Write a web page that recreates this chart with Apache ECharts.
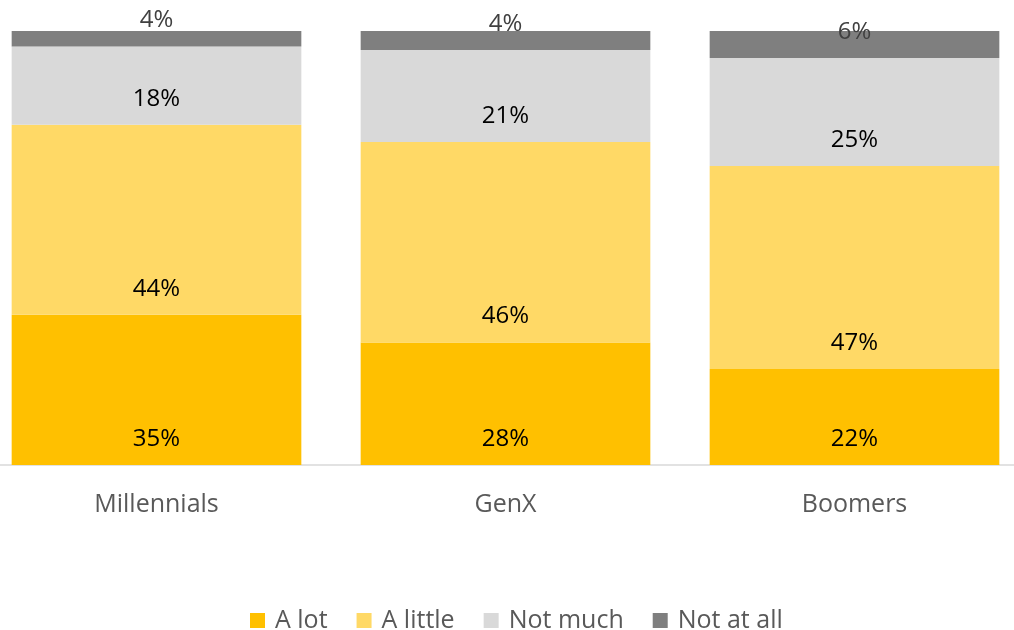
<!DOCTYPE html>
<html>
<head>
<meta charset="utf-8">
<script src="https://cdn.jsdelivr.net/npm/echarts@6/dist/echarts.min.js"></script>
<style>
  html, body { margin: 0; padding: 0; background: #fff; overflow: hidden; }
  body { width: 1014px; height: 630px; position: relative; }
  /* plot is wider than the window: the source picture is cropped on both sides */
  #chart { position: absolute; left: -18px; top: 0; width: 1047px; height: 630px; }
</style>
</head>
<body>
<div id="chart"></div>
<script>
// generations on the x axis
const categories = ['Millennials', 'GenX', 'Boomers']

// share of respondents (%); labels show rounded values
const aLot = [34.6, 28.2, 22.1]
const aLittle = [43.8, 46.2, 46.8]
const notMuch = [18.0, 21.2, 24.9]
const notAtAll = [3.6, 4.4, 6.2]

const seriesNames = ['A lot', 'A little', 'Not much', 'Not at all']
const seriesColors = ['#FFC000', '#FFD966', '#D9D9D9', '#7F7F7F']
const labelColors = ['#000000', '#000000', '#000000', '#404040']

const font = '"Open Sans", "Noto Sans", sans-serif'

const chart = echarts.init(document.getElementById('chart'))

const series = [aLot, aLittle, notMuch, notAtAll].map((values, i) => ({
  name: seriesNames[i],
  type: 'bar',
  stack: 'total',
  data: values,
  barCategoryGap: '17%',
  itemStyle: { color: seriesColors[i] },
  label: {
    show: true,
    position: 'insideBottom',
    distance: 14,
    color: labelColors[i],
    fontFamily: font,
    fontSize: 24,
    formatter: (p) => Math.round(p.value) + '%'
  }
}))

chart.setOption({
  backgroundColor: '#ffffff',
  animation: false,
  grid: { left: 0, right: 0, top: 31, bottom: 165 },
  legend: {
    top: 603,
    left: 263,
    itemWidth: 15,
    itemHeight: 15,
    itemGap: 29,
    icon: 'rect',
    textStyle: {
      color: '#595959',
      fontFamily: font,
      fontSize: 25,
      padding: [0, 0, 0, 5]
    },
    data: seriesNames
  },
  xAxis: {
    type: 'category',
    data: categories,
    axisLine: { lineStyle: { color: '#D9D9D9', width: 1.5 } },
    axisTick: { show: false },
    axisLabel: { color: '#595959', fontFamily: font, fontSize: 25, margin: 27 }
  },
  yAxis: {
    type: 'value',
    min: 0,
    max: 100,
    show: false,
    splitLine: { show: false }
  },
  series
})
</script>
</body>
</html>
